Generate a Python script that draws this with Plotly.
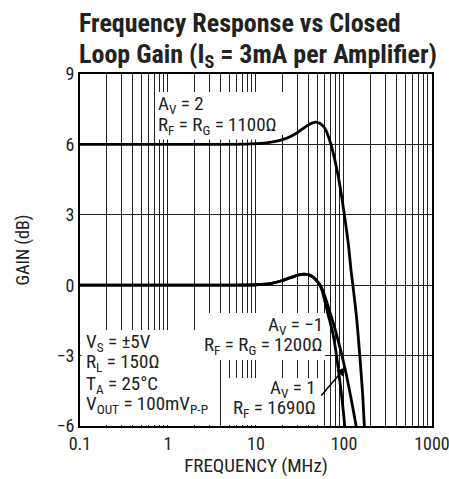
import plotly.graph_objects as go

# ---------------- data ----------------
freq_av2 = [0.1, 1, 5, 10, 15, 20, 25, 30, 35, 40, 44, 48, 53, 60.8, 70.6, 81.1, 91.7, 101.8, 111.9, 120.2, 127.6, 139.3, 152, 163.2, 170.2, 176]
gain_av2 = [6.0, 6.0, 6.0, 6.03, 6.1, 6.2, 6.35, 6.52, 6.7, 6.85, 6.92, 6.95, 6.9, 6.68, 6.04, 5.12, 4.05, 2.91, 1.78, 0.64, -0.15, -1.4, -3.1, -4.68, -5.96, -6.6]

freq_avm1 = [0.1, 1, 5, 10, 15, 20, 25, 30, 35, 40, 45, 50, 53, 57, 60.8, 67, 75.5, 86.1, 95.7, 101.8, 104]
gain_avm1 = [0.0, 0.0, 0.0, 0.02, 0.08, 0.2, 0.33, 0.43, 0.47, 0.44, 0.33, 0.15, 0.02, -0.28, -0.7, -1.35, -2.12, -3.54, -4.96, -5.96, -6.4]

freq_av1 = [0.1, 1, 5, 10, 15, 20, 25, 30, 35, 40, 45, 50, 53, 57, 63.5, 72, 82.6, 102.6, 122.3, 136.8, 141]
gain_av1 = [0.0, 0.0, 0.0, 0.02, 0.08, 0.2, 0.33, 0.43, 0.47, 0.44, 0.33, 0.15, 0.03, -0.2, -0.7, -1.35, -2.12, -3.54, -4.96, -5.96, -6.3]

x_major = [0.1, 1, 10, 100, 1000]
x_grid = [m * d for d in [0.1, 1, 10, 100] for m in range(1, 10)] + [1000]
y_ticks = [-6, -3, 0, 3, 6, 9]

FONT = "Liberation Sans Narrow, Arial Narrow, Roboto Condensed, Liberation Sans, sans-serif"
INK = "#222"

fig = go.Figure()
for fx, gy in [(freq_av2, gain_av2), (freq_avm1, gain_avm1), (freq_av1, gain_av1)]:
    fig.add_trace(go.Scatter(x=fx, y=gy, mode="lines",
                             line=dict(color="black", width=2.8, shape="spline", smoothing=0.5),
                             showlegend=False, hoverinfo="skip"))

x_text = [("%g" % v if v in x_major else "") for v in x_grid]

fig.update_xaxes(type="log", range=[-1, 3.0003], tickvals=x_grid, ticktext=x_text, ticks="",
                 showgrid=True, gridcolor=INK, gridwidth=1,
                 showline=True, linecolor="black", linewidth=2, mirror=True,
                 tickfont=dict(family=FONT, size=18, color=INK), ticklabeloverflow="allow",
                 title=dict(text="FREQUENCY (MHz)", font=dict(family=FONT, size=19, color=INK), standoff=6),
                 zeroline=False, automargin=False)
fig.update_yaxes(range=[-6, 9], tickvals=y_ticks, ticks="",
                 showgrid=True, gridcolor=INK, gridwidth=1,
                 showline=True, linecolor="black", linewidth=2, mirror=True,
                 tickfont=dict(family=FONT, size=18, color=INK),
                 title=dict(text="GAIN (dB)", font=dict(family=FONT, size=18, color=INK), standoff=22),
                 zeroline=False, automargin=False)

# layout helpers: pixel position inside the 449x479 canvas -> paper fraction
L, T, W, H = 80, 74, 352, 352
def px(x):
    return (x - L) / W
def py(y):
    return (T + H - y) / H

# white label backgrounds (kept clear of the curves)
for x0, x1, y0, y1 in [(155, 270, 92, 139.5), (270, 288, 92, 135), (81.5, 219, 330, 425),
                       (195, 325, 313, 360), (225, 320, 378, 425)]:
    fig.add_shape(type="rect", xref="paper", yref="paper",
                  x0=px(x0), x1=px(x1), y0=py(y1), y1=py(y0),
                  fillcolor="white", line=dict(width=0), layer="above")

lab_font = dict(family=FONT, size=19, color=INK)
labels = [
    ("A<sub>V</sub> = 2", 157, 105, "left"),
    ("R<sub>F</sub> = R<sub>G</sub> = 1100Ω", 157, 125, "left"),
    ("V<sub>S</sub> = ±5V", 85, 342, "left"),
    ("R<sub>L</sub> = 150Ω", 85, 362.5, "left"),
    ("T<sub>A</sub> = 25°C", 85, 384, "left"),
    ("V<sub>OUT</sub> = 100mV<sub>P-P</sub>", 85, 404, "left"),
    ("A<sub>V</sub> = −1", 324, 325, "right"),
    ("R<sub>F</sub> = R<sub>G</sub> = 1200Ω", 324, 345, "right"),
    ("A<sub>V</sub> = 1", 317, 388, "right"),
    ("R<sub>F</sub> = 1690Ω", 317, 408, "right"),
]
for txt, x, y, anc in labels:
    fig.add_annotation(xref="paper", yref="paper", x=px(x), y=py(y), xanchor=anc, yanchor="middle",
                       text=txt, showarrow=False, font=lab_font, borderpad=0)

fig.add_annotation(xref="paper", yref="paper", axref="pixel", ayref="pixel",
                   x=px(345.7), y=py(367), ax=320 - 345.7, ay=397 - 367,
                   text="", showarrow=True, arrowhead=2, arrowsize=1.2, arrowwidth=1.5, arrowcolor="black")

title_font = dict(family=FONT, size=26, color=INK)
fig.add_annotation(xref="paper", yref="paper", x=px(77), y=1, xanchor="left", yanchor="top", yshift=68,
                   showarrow=False, align="left", font=title_font,
                   text="<b>Frequency Response vs Closed</b>")
fig.add_annotation(xref="paper", yref="paper", x=px(77), y=1, xanchor="left", yanchor="top", yshift=37,
                   showarrow=False, align="left", font=title_font,
                   text="<b>Loop Gain (I<sub>S</sub> = 3mA per Amplifier)</b>")

fig.update_layout(
    width=449, height=479,
    margin=dict(l=80, r=17, t=74, b=53, autoexpand=False),
    paper_bgcolor="white", plot_bgcolor="white",
)

fig.write_html("out.html", config={"displayModeBar": False},
               post_script="document.body.style.margin='0';document.body.style.overflow='hidden';")
